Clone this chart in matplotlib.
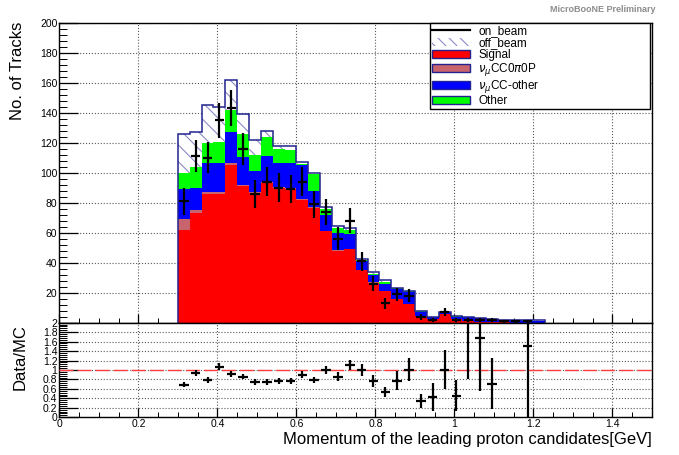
import numpy as np
import matplotlib
matplotlib.use('Agg')
import matplotlib.pyplot as plt
from matplotlib.patches import Patch
from matplotlib.lines import Line2D
from matplotlib.ticker import MultipleLocator, FormatStrFormatter, FuncFormatter

# binning: 0.30 -> 1.23 GeV in 0.03 steps
edges = np.round(np.arange(0.30, 1.2301, 0.03), 2)

# stacked MC components
signal = [62, 73, 85.5, 86, 105, 91, 86.5, 93, 90, 89, 82, 76.5, 61, 48, 49, 35,
          26.7, 21, 15.6, 12.2, 4.4, 2.2, 5.6, 2.2, 0.8, 0.5, 0.3, 0.2, 0.1, 0.1, 0.1]
cc0pi0p = [7, 2, 1.5, 1.3, 1.5, 1, 0.5, 0.5, 0.5, 0.5, 0.5, 0.5, 0.3, 0.3, 0.3, 0.2,
           0.2, 0.2, 0.1, 0.1, 0.1, 0.1, 0.1, 0.1, 0.1, 0.1, 0, 0, 0, 0, 0]
cc_other = [20, 15, 19.5, 19.2, 20.5, 18.5, 14, 17.5, 16, 17, 22.5, 11, 10.7, 11.7, 9.7, 5.8,
            4.6, 4.8, 6.8, 8, 2.9, 1.2, 1.1, 1.8, 2.8, 2.2, 2.0, 1.6, 1.5, 1.3, 1.2]
other = [11, 14, 13.5, 14, 14.5, 15, 11, 13, 9.5, 8.5, 1, 11, 3.8, 3.3, 2.5, 0.6,
         1, 0.8, 0.5, 0.5, 0.2, 0.2, 0.2, 0.2, 0.2, 0.1, 0.1, 0.1, 0.1, 0.1, 0.1]
off_beam = [26, 23, 25, 23.5, 20, 13.5, 9.5, 3.5, 1.5, 3, 1, 0.5, 1, 1.2, 1.5, 0.6,
            1.5, 1.4, 0.4, 0.4, 0.3, 0.2, 0.2, 0.2, 0.1, 0.1, 0.1, 0.1, 0.1, 0, 0.1]

on_beam = [81, 111, 110, 135, 143, 116, 86, 94, 90, 89, 94, 79, 74, 56, 68, 41,
           26, 13, 19, 18, 4, 2, 7, 2, 2, 2, 2, 1, 1, 1, 0]

# Data/MC panel (nan = not drawn)
ratio = [0.69, 0.93, 0.79, 1.07, 0.91, 0.86, 0.74, 0.745, 0.77, 0.77, 0.90, 0.79, 1.00, 0.86,
         1.10, 1.00, 0.77, 0.53, 0.77, 1.01, 0.34, 0.43, 1.01, 0.46, 2.4, 1.68, 0.71,
         np.nan, np.nan, 1.5, np.nan]
ratio_err = [0.05, 0.06, 0.06, 0.08, 0.06, 0.06, 0.06, 0.06, 0.06, 0.07, 0.07, 0.07, 0.09, 0.09,
             0.11, 0.12, 0.12, 0.10, 0.20, 0.25, 0.15, 0.30, 0.42, 0.32, 1.6, 1.13, 0.54,
             np.nan, np.nan, 1.5, np.nan]

plt.rcParams['font.family'] = ['Liberation Sans', 'DejaVu Sans']
plt.rcParams['hatch.linewidth'] = 0.8

fig = plt.figure(figsize=(6.79, 4.55), dpi=100)
ax = fig.add_axes([0.0875, 0.2908, 0.8727, 0.6593])
rax = fig.add_axes([0.0875, 0.0829, 0.8727, 0.2079])

centers = 0.5 * (edges[:-1] + edges[1:])
half = 0.4 * 0.03

# stack
bottom = np.zeros(len(centers))
for vals, col in [(signal, '#ff0000'), (cc0pi0p, '#c8646e'), (cc_other, '#0000ff'), (other, '#00ff00')]:
    vals = np.array(vals, dtype=float)
    ax.stairs(bottom + vals, edges, baseline=bottom.copy(), fill=True, facecolor=col, edgecolor=col, lw=0)
    bottom = bottom + vals
off = np.array(off_beam, dtype=float)
ax.stairs(bottom + off, edges, baseline=bottom.copy(), fill=True, facecolor='white',
          edgecolor='#8a8ac8', hatch='\\\\', lw=0)
total = bottom + off
ax.stairs(total, edges, baseline=0, color='#23238f', lw=1.1)

data = np.array(on_beam, dtype=float)
m = data > 0
ax.errorbar(centers[m], data[m], yerr=np.sqrt(data[m]), xerr=half, fmt='none',
            ecolor='black', elinewidth=1.6, capsize=0, zorder=5)

ax.set_xlim(0, 1.5)
ax.set_ylim(0, 200)
ax.yaxis.set_major_locator(MultipleLocator(20))
ax.yaxis.set_minor_locator(MultipleLocator(4))
ax.xaxis.set_major_locator(MultipleLocator(0.2))
ax.xaxis.set_minor_locator(MultipleLocator(0.05))
ax.yaxis.set_major_formatter(FuncFormatter(lambda v, p: '' if v == 0 else '%g' % v))
ax.tick_params(axis='x', labelbottom=False)
ax.set_axisbelow(True)
ax.grid(True, which='major', ls=':', color='0.35', lw=0.8)

# ratio panel
r = np.array(ratio, dtype=float)
re = np.array(ratio_err, dtype=float)
mr = ~np.isnan(r)
rax.axhline(1.0, color='#ff3b3b', lw=1.0, dashes=(10, 3), zorder=3)
rax.errorbar(centers[mr], r[mr], yerr=re[mr], xerr=half, fmt='none',
             ecolor='black', elinewidth=1.6, capsize=0, zorder=5)
rax.set_xlim(0, 1.5)
rax.set_ylim(0, 2)
rax.yaxis.set_major_locator(MultipleLocator(0.2))
rax.yaxis.set_minor_locator(MultipleLocator(0.04))
rax.xaxis.set_major_locator(MultipleLocator(0.2))
rax.xaxis.set_minor_locator(MultipleLocator(0.05))
rax.yaxis.set_major_formatter(FormatStrFormatter('%g'))
rax.xaxis.set_major_formatter(FormatStrFormatter('%g'))
rax.set_axisbelow(True)
rax.grid(True, which='major', ls=':', color='0.35', lw=0.8)

for a in (ax, rax):
    a.tick_params(which='both', direction='in', top=False, right=False, labelsize=7.5, pad=1.5)
    a.tick_params(axis='y', which='major', length=13.5, width=0.9)
    a.tick_params(axis='y', which='minor', length=6, width=0.7)
    a.tick_params(axis='x', which='major', length=6.5, width=0.9)
    a.tick_params(axis='x', which='minor', length=3.5, width=0.7)
    for s in a.spines.values():
        s.set_linewidth(1.0)

handles = [
    Line2D([0], [0], color='black', lw=1.6),
    Patch(facecolor='white', edgecolor='#8a8ac8', hatch='\\\\\\', lw=0),
    Patch(facecolor='#ff0000', edgecolor='#23238f', lw=1),
    Patch(facecolor='#c8646e', edgecolor='#23238f', lw=1),
    Patch(facecolor='#0000ff', edgecolor='#23238f', lw=1),
    Patch(facecolor='#00ff00', edgecolor='#23238f', lw=1),
]
labels = ['on_beam', 'off_beam', 'Signal', r'$\nu_{\mu}$CC0$\pi$0P', r'$\nu_{\mu}$CC-other', 'Other']
leg = ax.legend(handles, labels, loc='upper left', bbox_to_anchor=(0.625, 0.0, 0.372, 1.0),
                mode='expand', fontsize=8.5, frameon=True, fancybox=False, framealpha=1,
                edgecolor='black', borderpad=0.15, labelspacing=0.0, handlelength=3.2,
                handleheight=0.75, handletextpad=0.7, borderaxespad=0.05)
leg.get_frame().set_linewidth(1.0)

fig.text(0.0265, 0.952, 'No. of Tracks', rotation=90, ha='center', va='top', fontsize=12)
fig.text(0.0295, 0.288, 'Data/MC', rotation=90, ha='center', va='top', fontsize=12)
fig.text(0.960, 0.033, 'Momentum of the leading proton candidates[GeV]', ha='right', va='center', fontsize=12)
fig.text(0.965, 0.99, 'MicroBooNE Preliminary', ha='right', va='top', fontsize=6.5,
         color='#8c8c8c', fontweight='bold')

fig.savefig('out.png', dpi=100)
